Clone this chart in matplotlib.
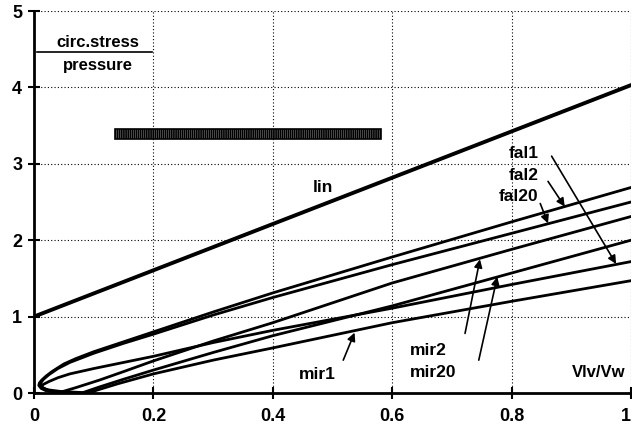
import matplotlib
matplotlib.use("Agg")
import matplotlib.pyplot as plt
from matplotlib.patches import Rectangle

plt.rcParams['font.family'] = ['Liberation Sans', 'DejaVu Sans']
plt.rcParams['font.weight'] = 'bold'
plt.rcParams['hatch.linewidth'] = 1.3

# linear (thick-wall sphere) estimate
lin_x = [0.0, 1.0]
lin_y = [1.0, 4.03]

# Falsetti curves: lower branch -> nose -> upper branch
fal2_x = [0.05, 0.035, 0.02, 0.012, 0.008, 0.009, 0.013, 0.02, 0.03, 0.05, 0.07, 0.1,
          0.15, 0.2, 0.3, 0.4, 0.6, 0.8, 1.0]
fal2_y = [0.0, 0.01, 0.03, 0.06, 0.10, 0.13, 0.17, 0.22, 0.28, 0.38, 0.45, 0.54,
          0.67, 0.80, 1.06, 1.31, 1.78, 2.24, 2.69]
fal20_x = [0.06, 0.04, 0.025, 0.015, 0.011, 0.012, 0.016, 0.025, 0.04, 0.06, 0.1,
           0.15, 0.2, 0.3, 0.4, 0.6, 0.8, 1.0]
fal20_y = [0.0, 0.01, 0.03, 0.07, 0.11, 0.14, 0.18, 0.24, 0.32, 0.40, 0.52,
           0.65, 0.77, 1.02, 1.25, 1.68, 2.09, 2.50]
fal1_x = [0.1, 0.07, 0.045, 0.025, 0.015, 0.012, 0.015, 0.025, 0.04, 0.06, 0.1,
          0.15, 0.2, 0.3, 0.4, 0.6, 0.8, 1.0]
fal1_y = [0.0, 0.01, 0.02, 0.04, 0.06, 0.08, 0.11, 0.15, 0.20, 0.25, 0.32,
          0.40, 0.48, 0.66, 0.82, 1.11, 1.42, 1.72]

# Mirsky curves
mir2_x = [0.04, 0.07, 0.11, 0.15, 0.2, 0.3, 0.4, 0.6, 0.8, 1.0]
mir2_y = [0.0, 0.07, 0.17, 0.28, 0.42, 0.68, 0.92, 1.44, 1.88, 2.31]
mir20_x = [0.08, 0.11, 0.15, 0.2, 0.3, 0.4, 0.6, 0.8, 1.0]
mir20_y = [0.0, 0.08, 0.18, 0.30, 0.53, 0.75, 1.14, 1.57, 2.00]
mir1_x = [0.09, 0.14, 0.2, 0.3, 0.4, 0.6, 0.8, 1.0]
mir1_y = [0.0, 0.12, 0.25, 0.43, 0.59, 0.92, 1.20, 1.47]

x_ticks = [0, 0.2, 0.4, 0.6, 0.8, 1]
x_ticklabels = ['0', '0.2', '0.4', '0.6', '0.8', '1']
y_ticks = [0, 1, 2, 3, 4, 5]

fig = plt.figure(figsize=(6.32, 4.32), dpi=100)
ax = fig.add_axes([34 / 632, 39 / 432, 597 / 632, 382 / 432])

ax.plot(lin_x, lin_y, color='k', lw=2.8, solid_capstyle='round')
for xs, ys in [(fal2_x, fal2_y), (fal20_x, fal20_y), (fal1_x, fal1_y),
               (mir2_x, mir2_y), (mir20_x, mir20_y), (mir1_x, mir1_y)]:
    ax.plot(xs, ys, color='k', lw=2.0, solid_joinstyle='round')

ax.set_xlim(0, 1)
ax.set_ylim(0, 5)
ax.set_xticks(x_ticks)
ax.set_xticklabels(x_ticklabels)
ax.set_yticks(y_ticks)
ax.tick_params(direction='inout', length=9, width=1.5, labelsize=13, pad=6)
ax.tick_params(axis='y', pad=4)
# keep the last x label inside the figure edge
ax.get_xticklabels()[-1].set_horizontalalignment('right')
ax.grid(True, color='k', ls=(0, (1, 2)), lw=0.8)
for s in ['top', 'right']:
    ax.spines[s].set_visible(False)
for s in ['left', 'bottom']:
    ax.spines[s].set_linewidth(2)

# y axis label as a fraction
ax.text(0.107, 4.59, 'circ.stress', ha='center', va='center', fontsize=12)
ax.plot([0.005, 0.198], [4.46, 4.46], color='k', lw=1.2)
ax.text(0.107, 4.29, 'pressure', ha='center', va='center', fontsize=12)

ax.add_patch(Rectangle((0.136, 3.33), 0.445, 0.13, facecolor='white',
                       edgecolor='k', hatch='||||||||', lw=1.2))

ax.text(0.484, 2.69, 'lin', ha='center', va='center', fontsize=12.5)
ax.text(0.99, 0.27, 'Vlv/Vw', ha='right', va='center', fontsize=12)

arrow = dict(arrowstyle='-|>', color='k', lw=1.2, mutation_scale=12, shrinkA=0, shrinkB=0)
labels = [
    ('fal1', (0.845, 3.13), (0.975, 1.69), (0.867, 3.10)),
    ('fal2', (0.845, 2.85), (0.889, 2.44), (0.861, 2.77)),
    ('fal20', (0.845, 2.57), (0.861, 2.22), (0.848, 2.48)),
]
for text, pos, tip, start in labels:
    ax.text(pos[0], pos[1], text, ha='right', va='center', fontsize=12.5)
    ax.annotate('', xy=tip, xytext=start, arrowprops=arrow)

ax.text(0.474, 0.24, 'mir1', ha='center', va='center', fontsize=12.5)
ax.annotate('', xy=(0.537, 0.79), xytext=(0.518, 0.43), arrowprops=arrow)
ax.text(0.63, 0.56, 'mir2', ha='left', va='center', fontsize=12.5)
ax.text(0.63, 0.27, 'mir20', ha='left', va='center', fontsize=12.5)
ax.annotate('', xy=(0.747, 1.75), xytext=(0.722, 0.78), arrowprops=arrow)
ax.annotate('', xy=(0.776, 1.52), xytext=(0.745, 0.43), arrowprops=arrow)

fig.savefig('out.png', dpi=100)
